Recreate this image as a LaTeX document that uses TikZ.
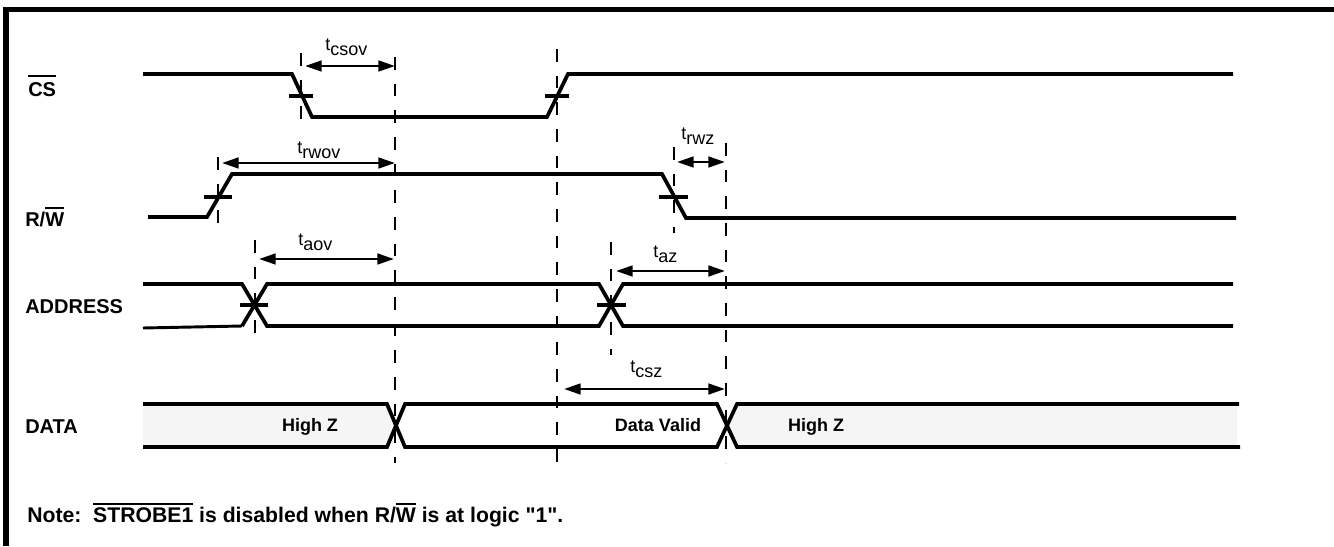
\documentclass[tikz,border=0pt]{standalone}
\usepackage{fontspec}
\setmainfont{Liberation Sans}[Ligatures=TeXOff]
\usetikzlibrary{arrows.meta}
\definecolor{hiz}{HTML}{F5F5F5}
\newcommand\ovl[2]{\leavevmode\vbox{\hrule height 1.5pt\kern#1\hbox{#2}}}
\newcommand\tsub[1]{t\raisebox{-3.8pt}{#1}}
\begin{document}
\begin{tikzpicture}[x=0.75pt,y=-0.75pt,
  sig/.style={line width=2.8pt,line join=miter,line cap=butt},
  tickmark/.style={line width=2.6pt,line cap=butt},
  guide/.style={line width=1.5pt,dash pattern=on 9.5pt off 10.5pt,line cap=butt},
  dim/.style={line width=2pt,{Triangle[length=12.5pt,width=8pt]}-{Triangle[length=12.5pt,width=8pt]}},
  lab/.style={font=\fontsize{15}{18}\selectfont\bfseries,anchor=base west,inner sep=0pt},
  dlab/.style={font=\fontsize{13.5}{16}\selectfont\bfseries,anchor=base,inner sep=0pt},
  tlab/.style={font=\fontsize{13.5}{16}\selectfont,anchor=base west,inner sep=0pt}]
\useasboundingbox (0,0) rectangle (1334,546);
% frame
\draw[line width=4.2pt,line cap=butt,line join=miter] (6,546) -- (6,9.5) -- (1334,9.5);
% high-Z fills
\fill[hiz] (143,404) -- (387,404) -- (396,425.5) -- (387,447) -- (143,447) -- cycle;
\fill[hiz] (737,404) -- (1237,404) -- (1237,447) -- (737,447) -- (727,425.5) -- cycle;
% guide coordinates
\coordinate (g1t) at (301,53);  \coordinate (g1b) at (301,130);
\coordinate (g2t) at (395,57);  \coordinate (g2b) at (395,463);
\coordinate (g3t) at (557,49);  \coordinate (g3b) at (557,463);
\coordinate (g4t) at (218,157); \coordinate (g4b) at (218,232);
\coordinate (g5t) at (255,240); \coordinate (g5b) at (255,342);
\coordinate (g6t) at (611,242); \coordinate (g6b) at (611,355);
\coordinate (g7t) at (674,147); \coordinate (g7b) at (674,233);
\coordinate (g8t) at (726,143); \coordinate (g8b) at (726,463);
\draw[guide] (g1t) -- (g1b);
\draw[guide] (g2t) -- (g2b);
\draw[guide] (g3t) -- (g3b);
\draw[guide] (g4t) -- (g4b);
\draw[guide] (g5t) -- (g5b);
\draw[guide] (g6t) -- (g6b);
\draw[guide] (g7t) -- (g7b);
\draw[guide] (g8t) -- (g8b);
% dimension arrows
\coordinate (csovL) at (305,66);  \coordinate (csovR) at (395,66);
\coordinate (rwovL) at (222,163); \coordinate (rwovR) at (395,163);
\coordinate (aovL) at (259,259);  \coordinate (aovR) at (394,259);
\coordinate (rwzL) at (677,162);  \coordinate (rwzR) at (725,162);
\coordinate (azL) at (616,271);   \coordinate (azR) at (725,271);
\coordinate (cszL) at (564,389);  \coordinate (cszR) at (725,389);
\draw[dim] (csovL) -- (csovR);
\draw[dim] (rwovL) -- (rwovR);
\draw[dim] (aovL) -- (aovR);
\draw[dim] (rwzL) -- (rwzR);
\draw[dim] (azL) -- (azR);
\draw[dim] (cszL) -- (cszR);
% CS
\draw[sig] (143,74) -- (292,74) -- (312,117) -- (547,117) -- (568,74) -- (1233,74);
\draw[tickmark] (289,96) -- (313,96);
\draw[tickmark] (545,96) -- (569,96);
% R/W
\draw[sig] (148,217) -- (207,217) -- (232,174) -- (662,174) -- (686,218) -- (1236,218);
\draw[tickmark] (204,197) -- (232,197);
\draw[tickmark] (659,197) -- (688,197);
% ADDRESS
\draw[line width=2.2pt] (143,328) -- (242,326);
\draw[sig] (143,284) -- (242,284) -- (267,326) -- (599,326) -- (623,284) -- (1233,284);
\draw[sig] (242,326) -- (267,284) -- (599,284) -- (623,326) -- (1233,326);
\draw[tickmark] (240,305) -- (268,305);
\draw[tickmark] (597,305) -- (626,305);
% DATA
\draw[sig] (143,404) -- (387,404) -- (405,447) -- (717,447) -- (737,404) -- (1239,404);
\draw[sig] (143,447) -- (387,447) -- (405,404) -- (717,404) -- (737,447) -- (1240,447);
% signal names
\node[lab] (cs) at (28,96.5) {\ovl{4.5pt}{CS}};
\node[lab] (rw) at (25,226.5) {R/\ovl{3pt}{W}};
\node[lab] (addr) at (25,313) {ADDRESS};
\node[lab] (data) at (25,433) {DATA};
% data labels
\node[dlab] (hz1) at (310,431.5) {High Z};
\node[dlab] (dv) at (658,431) {Data Valid};
\node[dlab] (hz2) at (816,431.5) {High Z};
% timing labels
\node[tlab] (tcsov) at (325,50) {\tsub{csov}};
\node[tlab] (trwov) at (297,153) {\tsub{rwov}};
\node[tlab] (taov) at (298,245) {\tsub{aov}};
\node[tlab] (trwz) at (681,139) {\tsub{rwz}};
\node[tlab] (taz) at (653,257) {\tsub{az}};
\node[tlab] (tcsz) at (630,372) {\tsub{csz}};
% note
\node[lab,font=\fontsize{15.9}{18}\selectfont\bfseries] (note) at (27,522) {Note:\ \ \ovl{1.5pt}{STROBE1} is disabled when R/\ovl{1.5pt}{W} is at logic "1".};
\end{tikzpicture}
\end{document}
